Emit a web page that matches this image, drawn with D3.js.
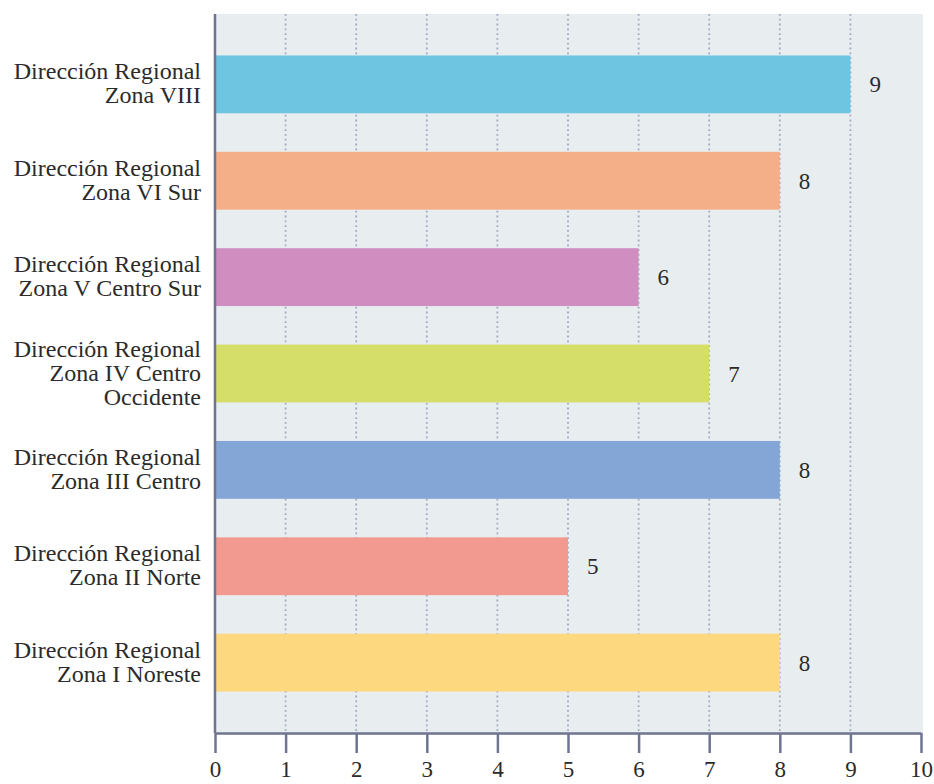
<!DOCTYPE html>
<html>
<head>
<meta charset="utf-8">
<script src="https://cdn.jsdelivr.net/npm/d3@7"></script>
<style>
  body { margin: 0; background: #fff; }
  svg text { font-family: "Liberation Serif", "DejaVu Serif", serif; fill: #2b2b2b; }
</style>
</head>
<body>
<svg id="chart"></svg>
<script>
// regions, top to bottom
var regions = [
	["Dirección Regional", "Zona VIII"],
	["Dirección Regional", "Zona VI Sur"],
	["Dirección Regional", "Zona V Centro Sur"],
	["Dirección Regional", "Zona IV Centro", "Occidente"],
	["Dirección Regional", "Zona III Centro"],
	["Dirección Regional", "Zona II Norte"],
	["Dirección Regional", "Zona I Noreste"]
];
var counts = [9, 8, 6, 7, 8, 5, 8];
var barColors = ["#6ec5e1", "#f4ae88", "#cf8dc0", "#d6de6a", "#84a6d6", "#f39a90", "#fdd87e"];
var xTicks = [0, 1, 2, 3, 4, 5, 6, 7, 8, 9, 10];

var width = 934, height = 784;
var plot = { left: 215, right: 921, top: 14, bottom: 733 };

var svg = d3.select('#chart')
	.attr('width', width)
	.attr('height', height);

var x = d3.scaleLinear().domain([0, 10]).range([plot.left, plot.right]);
var y = d3.scaleBand()
	.domain(d3.range(regions.length))
	.range([plot.top, plot.bottom])
	.paddingInner(0.4)
	.paddingOuter(0.43);

// panel background
svg.append('rect')
	.attr('x', plot.left)
	.attr('y', plot.top)
	.attr('width', x(10) - plot.left + 2)
	.attr('height', plot.bottom - plot.top)
	.attr('fill', '#e8edf0');

// dotted grid
svg.append('g')
	.selectAll('line')
	.data(xTicks.slice(1, -1))
	.join('line')
	.attr('x1', function(d) { return x(d); })
	.attr('x2', function(d) { return x(d); })
	.attr('y1', plot.top)
	.attr('y2', plot.bottom)
	.attr('stroke', '#a3a8c0')
	.attr('stroke-width', 1.8)
	.attr('stroke-dasharray', '1.8,3');

// bars
svg.append('g')
	.selectAll('rect')
	.data(counts)
	.join('rect')
	.attr('x', x(0))
	.attr('y', function(d, i) { return y(i); })
	.attr('width', function(d) { return x(d) - x(0); })
	.attr('height', y.bandwidth())
	.attr('fill', function(d, i) { return barColors[i]; });

// value labels
svg.append('g')
	.selectAll('text')
	.data(counts)
	.join('text')
	.attr('x', function(d) { return x(d) + 19; })
	.attr('y', function(d, i) { return y(i) + y.bandwidth() / 2 + 8; })
	.attr('font-size', '23px')
	.text(function(d) { return d; });

// category labels, right aligned against the axis
var lineH = 24;
var labels = svg.append('g')
	.selectAll('text')
	.data(regions)
	.join('text')
	.attr('text-anchor', 'end')
	.attr('font-size', '24px')
	.attr('y', function(d, i) {
		var mid = y(i) + y.bandwidth() / 2;
		return mid - (d.length - 1) * lineH / 2 + 7;
	});
labels.selectAll('tspan')
	.data(function(d) { return d; })
	.join('tspan')
	.attr('x', 201)
	.attr('dy', function(d, j) { return j === 0 ? 0 : lineH; })
	.text(function(d) { return d; });

// left axis line
svg.append('line')
	.attr('x1', plot.left)
	.attr('x2', plot.left)
	.attr('y1', plot.top)
	.attr('y2', plot.bottom)
	.attr('stroke', '#6f7491')
	.attr('stroke-width', 2.5);

// bottom axis
var xAxis = svg.append('g')
	.attr('transform', 'translate(0,' + plot.bottom + ')')
	.call(d3.axisBottom(x).tickValues(xTicks).tickSize(20).tickPadding(9).tickSizeOuter(0));
xAxis.select('.domain')
	.attr('stroke', '#6f7491')
	.attr('stroke-width', 2.5);
xAxis.selectAll('.tick line')
	.attr('stroke', '#6f7491')
	.attr('stroke-width', 2.5);
xAxis.selectAll('.tick text')
	.attr('font-size', '23px')
	.attr('dy', '0.66em')
	.attr('font-family', '"Liberation Serif", serif')
	.attr('fill', '#2b2b2b');
</script>
</body>
</html>
